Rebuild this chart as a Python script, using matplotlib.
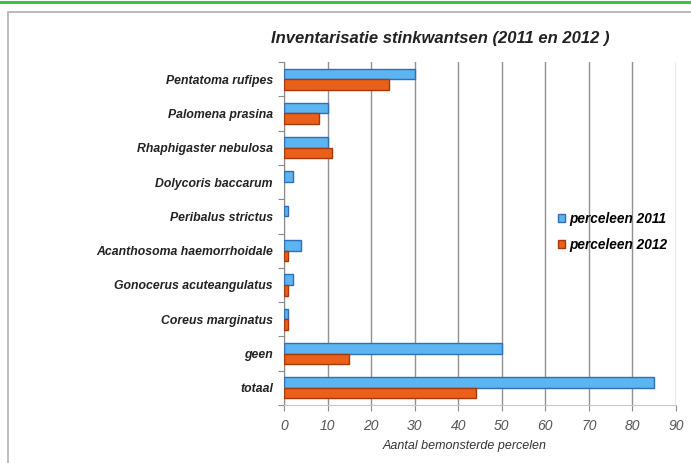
import matplotlib.pyplot as plt
from matplotlib.patches import Rectangle
from matplotlib.lines import Line2D
import numpy as np

# gegevens
soorten = ["Pentatoma rufipes", "Palomena prasina", "Rhaphigaster nebulosa",
           "Dolycoris baccarum", "Peribalus strictus", "Acanthosoma haemorrhoidale",
           "Gonocerus acuteangulatus", "Coreus marginatus", "geen", "totaal"]
percelen_2011 = [30, 10, 10, 2, 1, 4, 2, 1, 50, 85]
percelen_2012 = [24, 8, 11, 0, 0, 1, 1, 1, 15, 44]
x_ticks = [0, 10, 20, 30, 40, 50, 60, 70, 80, 90]

plt.rcParams['font.family'] = ['Liberation Sans', 'DejaVu Sans']

fig = plt.figure(figsize=(6.91, 4.63), dpi=100)
fig.patch.set_facecolor("white")
# groene lijn bovenaan en kader van de grafiek
fig.add_artist(Line2D([0, 1], [1 - 2 / 463, 1 - 2 / 463], color="#3cc43c", lw=2.2))
fig.add_artist(Rectangle((8 / 691, -0.05), 1.0, 1 - 12 / 463 + 0.05, transform=fig.transFigure,
                         facecolor="white", edgecolor="#b0b0b0", lw=1.2, zorder=-5))

ax = fig.add_axes([284 / 691, 1 - 405 / 463, (676 - 284) / 691, (405 - 62) / 463])
ax.set_facecolor("none")

y = np.arange(len(soorten))
h = 0.31
# geen rand tekenen bij een waarde 0
lw_2011 = [1.0 if v > 0 else 0 for v in percelen_2011]
lw_2012 = [1.0 if v > 0 else 0 for v in percelen_2012]
ax.barh(y - h / 2, percelen_2011, height=h, color="#5cb4f0", edgecolor="#2f6fb8", lw=lw_2011,
        label="perceleen 2011", zorder=3)
ax.barh(y + h / 2, percelen_2012, height=h, color="#e8601a", edgecolor="#a8380c", lw=lw_2012,
        label="perceleen 2012", zorder=3)

ax.set_ylim(len(soorten) - 0.5, -0.5)
ax.set_xlim(0, 90)
ax.set_xticks(x_ticks)
ax.set_xticklabels([str(v) for v in x_ticks], fontstyle="italic", color="#555555", fontsize=10)
ax.grid(axis="x", color="#909090", lw=1.0, zorder=0)

# categorieën: labels in het midden, streepjes op de grenzen
ax.set_yticks(np.arange(len(soorten) + 1) - 0.5)
ax.set_yticklabels([])
ax.set_yticks(y, minor=True)
ax.set_yticklabels(soorten, minor=True, fontstyle="italic", fontweight="bold", fontsize=8.8,
                   color="#222222")
ax.tick_params(axis="y", which="major", length=4, color="#8a8a8a")
ax.tick_params(axis="y", which="minor", length=0, pad=8)
ax.tick_params(axis="x", length=4, color="#8a8a8a", pad=6)

for s in ["top", "right"]:
    ax.spines[s].set_visible(False)
ax.spines["left"].set_color("#8a8a8a")
ax.spines["bottom"].set_color("#c8c8c8")

fig.text(440 / 691, 1 - 38 / 463, "Inventarisatie stinkwantsen (2011 en 2012 )", ha="center",
         va="center", fontsize=12, fontstyle="italic", fontweight="bold", color="#222222")
fig.text(465 / 691, 1 - 446 / 463, "Aantal bemonsterde percelen", ha="center", va="center",
         fontsize=9, fontstyle="italic", color="#333333")

ax.legend(loc="center left", bbox_to_anchor=(262 / 392, 1 - (232 - 62) / 343), frameon=False,
          handlelength=0.5, handleheight=0.5, handletextpad=0.3, labelspacing=0.9,
          prop={"style": "italic", "weight": "bold", "size": 9.8})

fig.savefig("out.png", dpi=100)
